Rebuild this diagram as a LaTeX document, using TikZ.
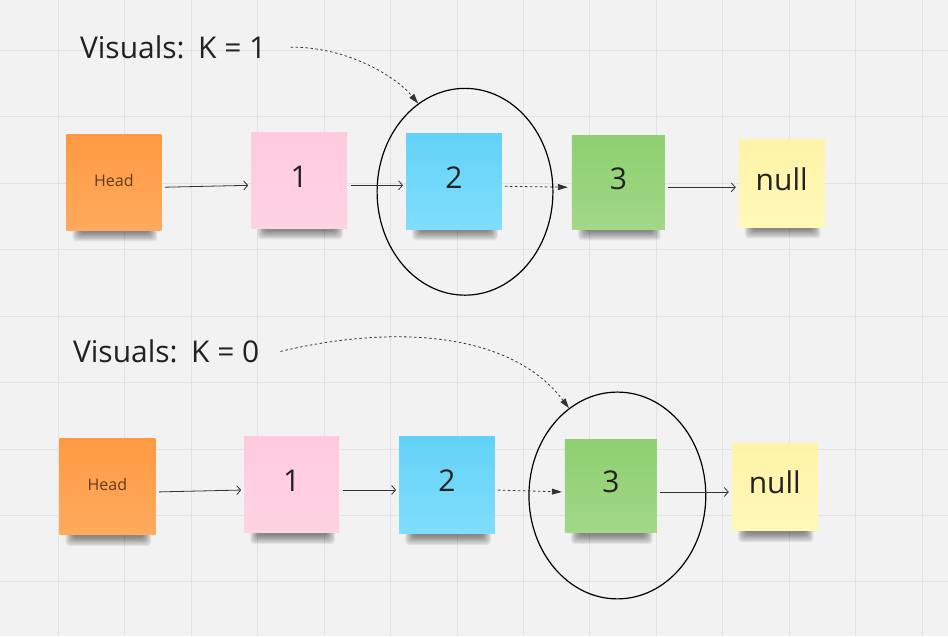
\documentclass[tikz,border=0pt]{standalone}
\usepackage{fontspec}
\setmainfont{Open Sans}
\usetikzlibrary{arrows.meta,shapes.geometric}

\definecolor{board}{HTML}{F2F2F2}
\definecolor{gridln}{HTML}{E3E3E3}
\definecolor{ink}{HTML}{222222}
\definecolor{linkc}{HTML}{333333}
\definecolor{orTop}{HTML}{FF9A42}
\definecolor{orBot}{HTML}{FFAA5E}
\definecolor{pkTop}{HTML}{FFCADE}
\definecolor{pkBot}{HTML}{FFD3E3}
\definecolor{blTop}{HTML}{63D2F8}
\definecolor{blBot}{HTML}{80DEFC}
\definecolor{grTop}{HTML}{8ECF70}
\definecolor{grBot}{HTML}{A2D887}
\definecolor{ywTop}{HTML}{FFF3A8}
\definecolor{ywBot}{HTML}{FFF8B8}
\definecolor{headink}{HTML}{5E3D20}

\pgfdeclarelayer{base}
\pgfdeclarelayer{shade}
\pgfsetlayers{base,shade,main}

\tikzset{
  note/.style={rectangle, inner sep=0pt, outer sep=0pt, text=ink,
    font=\fontsize{30}{36}\selectfont, text height=22pt, text depth=8pt},
  headnote/.style={note, top color=orTop, bottom color=orBot, text=headink,
    font=\fontsize{16}{19}\selectfont, text height=12pt, text depth=4.5pt},
  pinknote/.style={note, top color=pkTop, bottom color=pkBot},
  bluenote/.style={note, top color=blTop, bottom color=blBot},
  greennote/.style={note, top color=grTop, bottom color=grBot},
  yellownote/.style={note, top color=ywTop, bottom color=ywBot},
  dropband/.style={fill=black, opacity=0.065, rounded corners=4pt},
  caption/.style={anchor=base west, inner sep=0pt, text=ink,
    font=\fontsize{30}{36}\selectfont},
  ring/.style={ellipse, draw=black, line width=1.2pt, inner sep=0pt},
  link/.style={draw=linkc, line width=0.8pt,
    -{Straight Barb[length=4pt,width=9pt,line width=0.8pt]},
    shorten <=3.5pt, shorten >=3pt},
  dlink/.style={draw=linkc, line width=0.8pt, dash pattern=on 2.5pt off 2.5pt,
    -{Triangle[length=10pt,width=6pt]}},
  gridline/.style={draw=gridln, line width=0.9pt}
}

% soft shadow along the lower edge of a sticky note: stacked translucent bands
\newcommand\noteshade[1]{%
  \foreach \k in {1,...,8}{%
    \path[dropband]
      ([xshift={5pt+1.1pt*\k},yshift=12pt]#1.south west)
      rectangle ([xshift={-3pt-1.1pt*\k},yshift={-12.5pt+1.25pt*\k}]#1.south east);
  }}

\begin{document}
\begin{tikzpicture}[x=1pt,y=-1pt]
  % list with K = 1
  \node[caption] (cap1) at (79.5,58) {Visuals:\hspace{0.1em} K = 1};
  \node[headnote, minimum width=95pt, minimum height=96pt] (head1) at (113.5,182) {Head};
  \node[pinknote, minimum width=96pt, minimum height=96pt] (one1) at (299,180) {1};
  \node[bluenote, minimum width=96pt, minimum height=96pt] (two1) at (454,181) {2};
  \node[greennote, minimum width=93pt, minimum height=94pt] (three1) at (618.5,182) {3};
  \node[yellownote, minimum width=86pt, minimum height=88pt] (null1) at (782,183) {null};
  \node[ring, minimum width=176pt, minimum height=207pt] (ring1) at (465,191.5) {};

  \draw[link] ([yshift=-5pt]head1.east) -- ([yshift=-5pt]one1.west);
  \draw[link] ([yshift=-5pt]one1.east) -- ([yshift=-4pt]two1.west);
  \draw[dlink, shorten <=3pt, shorten >=4pt] ([yshift=-5pt]two1.east) -- ([yshift=-5pt]three1.west);
  \draw[link] ([yshift=-5pt]three1.east) -- ([yshift=-4pt]null1.west);
  \draw[dlink] ([xshift=24pt]cap1.east) .. controls (345,46) and (395,75) .. (ring1.118);

  % list with K = 0
  \node[caption] (cap2) at (72.5,362.5) {Visuals:\hspace{0.1em} K = 0};
  \node[headnote, minimum width=96pt, minimum height=97pt] (head2) at (107,486.5) {Head};
  \node[pinknote, minimum width=95pt, minimum height=97pt] (one2) at (291.5,484.5) {1};
  \node[bluenote, minimum width=96pt, minimum height=98pt] (two2) at (447,485) {2};
  \node[greennote, minimum width=92pt, minimum height=94pt] (three2) at (611,486) {3};
  \node[yellownote, minimum width=86pt, minimum height=88pt] (null2) at (775,487) {null};
  \node[ring, minimum width=177pt, minimum height=207pt] (ring2) at (617.5,495.5) {};

  \draw[link] ([yshift=-5.5pt]head2.east) -- ([yshift=-5.5pt]one2.west);
  \draw[link] ([yshift=-5.5pt]one2.east) -- ([yshift=-5pt]two2.west);
  \draw[dlink, shorten <=3pt, shorten >=3pt] ([yshift=-5pt]two2.east) -- ([yshift=-6pt]three2.west);
  \draw[link] ([yshift=-6pt]three2.east) -- ([yshift=-5pt]null2.west);
  \draw[dlink] ([xshift=21pt]cap2.east) .. controls (390,325) and (510,330) .. (ring2.119);

  % shadows beneath the notes
  \begin{pgfonlayer}{shade}
    \foreach \nn in {head1,one1,two1,three1,null1,head2,one2,two2,three2,null2}
      \noteshade{\nn};
  \end{pgfonlayer}

  % board and grid
  \begin{pgfonlayer}{base}
    \fill[board] (0,0) rectangle (948,636);
    \foreach \gx in {0,...,13}
      \draw[gridline] ({58+66.5*\gx},0) -- ({58+66.5*\gx},636);
    \foreach \gy in {0,...,8}
      \draw[gridline] (0,{50+66.5*\gy}) -- (948,{50+66.5*\gy});
  \end{pgfonlayer}
  \useasboundingbox (0,0) rectangle (948,636);
\end{tikzpicture}
\end{document}
